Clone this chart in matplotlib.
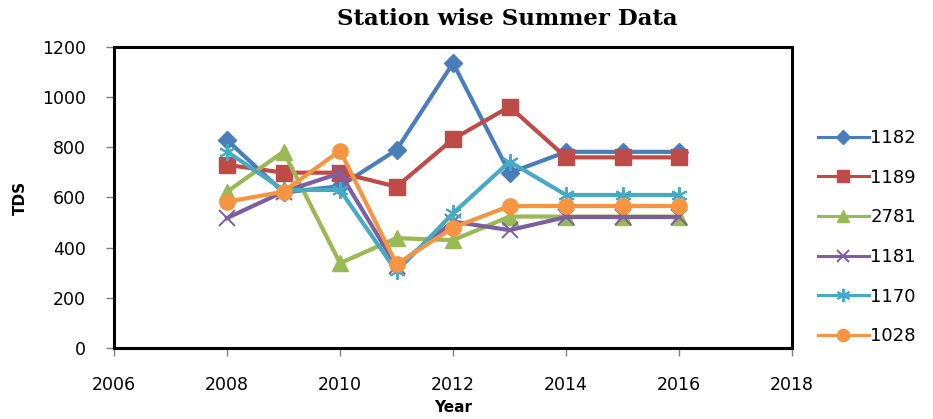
import numpy as np
import matplotlib
matplotlib.use("Agg")
import matplotlib.pyplot as plt

years = [2008, 2009, 2010, 2011, 2012, 2013, 2014, 2015, 2016]
s1182 = [829, 620, 645, 790, 1136, 698, 782, 782, 782]
s1189 = [730, 699, 699, 643, 833, 962, 760, 760, 760]
s2781 = [623, 783, 338, 438, 430, 524, 524, 524, 524]
s1181 = [518, 623, 697, 325, 504, 470, 522, 522, 522]
s1170 = [783, 630, 630, 305, 537, 743, 610, 610, 610]
s1028 = [583, 623, 787, 334, 480, 566, 566, 566, 566]

labels = ['1182', '1189', '2781', '1181', '1170', '1028']
colors = ['#4a7ebb', '#be4b48', '#98b954', '#7d5fa0', '#46aac5', '#f59541']

plt.rcParams['font.family'] = ['DejaVu Sans']

fig = plt.figure(figsize=(9.33, 4.19), dpi=100)
ax = fig.add_axes([0.1222, 0.1695, 0.7268, 0.7183])

series = [s1182, s1189, s2781, s1181, s1170, s1028]
styles = [dict(marker='D', ms=9),
          dict(marker='s', ms=11),
          dict(marker='^', ms=11),
          dict(marker='x', ms=11, mew=1.4),
          dict(marker=(6, 2, 0), ms=12, mew=1.4),
          dict(marker='o', ms=11)]
for vals, lab, c, st in zip(series, labels, colors, styles):
    ax.plot(years, vals, color=c, lw=3, mec=c, label=lab, **st)

ax.set_xlim(2006, 2018)
ax.set_ylim(0, 1200)
ax.set_xticks(np.arange(2006, 2019, 2))
ax.set_yticks(np.arange(0, 1201, 200))
ax.tick_params(direction='out', length=6, width=1, labelsize=12.5, color='#808080')
ax.tick_params(axis='x', pad=14)
ax.tick_params(axis='y', pad=14)
for sp in ax.spines.values():
    sp.set_linewidth(2.2)
    sp.set_color('black')

ax.set_title('Station wise Summer Data', family=['DejaVu Serif'],
             fontweight='bold', fontsize=16.5, pad=16, x=0.58)
ax.set_ylabel('TDS', fontweight='bold', fontsize=11)
ax.set_xlabel('Year', fontweight='bold', fontsize=11)
ax.yaxis.set_label_coords(-0.127, 0.5)
ax.xaxis.set_label_coords(0.5, -0.174)

leg = fig.legend(loc='upper left', bbox_to_anchor=(0.8767, 0.692), bbox_transform=fig.transFigure,
                 frameon=False, fontsize=13, labelspacing=1.2, handlelength=2.8,
                 handletextpad=0.1, borderpad=0, borderaxespad=0, markerscale=0.8)
for h in leg.legend_handles:
    h.set_linewidth(2.2)

fig.savefig('out.png', dpi=100)
